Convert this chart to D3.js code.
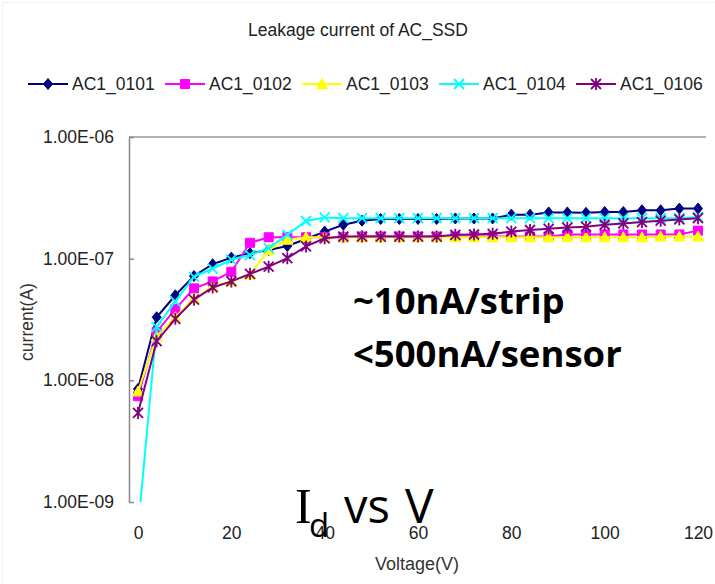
<!DOCTYPE html>
<html>
<head>
<meta charset="utf-8">
<script src="https://cdn.jsdelivr.net/npm/d3@7"></script>
<style>
  html, body { margin: 0; padding: 0; background: #fff; }
  svg { display: block; }
</style>
</head>
<body>
<svg id="chart" width="715" height="584"></svg>
<script>
// voltage steps (V)
const voltages = [0, 4, 8, 12, 16, 20, 24, 28, 32, 36, 40, 44, 48, 52, 56, 60,
  64, 68, 72, 76, 80, 84, 88, 92, 96, 100, 104, 108, 112, 116, 120];

// leakage current (A), one array per sensor
const ac0101 = [8.5e-9, 3.3e-8, 5.0e-8, 7.2e-8, 9.0e-8, 1.02e-7, 1.11e-7, 1.18e-7, 1.27e-7, 1.45e-7, 1.67e-7,
  1.9e-7, 2.05e-7, 2.12e-7, 2.12e-7, 2.12e-7, 2.12e-7, 2.14e-7, 2.14e-7, 2.14e-7, 2.3e-7,
  2.3e-7, 2.4e-7, 2.4e-7, 2.38e-7, 2.42e-7, 2.42e-7, 2.5e-7, 2.5e-7, 2.58e-7, 2.58e-7];
const ac0102 = [7.4e-9, 2.5e-8, 3.85e-8, 5.7e-8, 6.5e-8, 7.8e-8, 1.35e-7, 1.5e-7, 1.5e-7, 1.5e-7, 1.5e-7,
  1.5e-7, 1.52e-7, 1.52e-7, 1.52e-7, 1.52e-7, 1.52e-7, 1.52e-7, 1.52e-7, 1.52e-7, 1.52e-7,
  1.52e-7, 1.52e-7, 1.58e-7, 1.58e-7, 1.58e-7, 1.58e-7, 1.58e-7, 1.58e-7, 1.58e-7, 1.7e-7];
const ac0103 = [8.1e-9, 2.3e-8, 3.3e-8, 4.7e-8, 5.9e-8, 6.5e-8, 7.4e-8, 1.18e-7, 1.43e-7, 1.5e-7, 1.5e-7,
  1.5e-7, 1.5e-7, 1.5e-7, 1.5e-7, 1.5e-7, 1.5e-7, 1.5e-7, 1.5e-7, 1.5e-7, 1.5e-7,
  1.5e-7, 1.5e-7, 1.5e-7, 1.5e-7, 1.5e-7, 1.5e-7, 1.5e-7, 1.52e-7, 1.52e-7, 1.52e-7];
const ac0104 = [6e-10, 2.75e-8, 4.45e-8, 7.1e-8, 8.3e-8, 9.8e-8, 1.07e-7, 1.22e-7, 1.57e-7, 2.04e-7, 2.18e-7,
  2.15e-7, 2.15e-7, 2.15e-7, 2.15e-7, 2.15e-7, 2.15e-7, 2.15e-7, 2.15e-7, 2.15e-7, 2.15e-7,
  2.15e-7, 2.15e-7, 2.15e-7, 2.15e-7, 2.15e-7, 2.15e-7, 2.15e-7, 2.15e-7, 2.15e-7, 2.2e-7];
const ac0106 = [5.4e-9, 2.1e-8, 3.2e-8, 4.6e-8, 5.8e-8, 6.5e-8, 7.5e-8, 8.6e-8, 1.01e-7, 1.26e-7, 1.47e-7,
  1.52e-7, 1.52e-7, 1.52e-7, 1.52e-7, 1.52e-7, 1.52e-7, 1.57e-7, 1.58e-7, 1.6e-7, 1.67e-7,
  1.72e-7, 1.76e-7, 1.8e-7, 1.83e-7, 1.9e-7, 1.95e-7, 2.0e-7, 2.05e-7, 2.1e-7, 2.15e-7];

const seriesNames = ['AC1_0101', 'AC1_0102', 'AC1_0103', 'AC1_0104', 'AC1_0106'];
const seriesValues = [ac0101, ac0102, ac0103, ac0104, ac0106];

const xTicks = [0, 20, 40, 60, 80, 100, 120];
const yTicks = [1e-9, 1e-8, 1e-7, 1e-6];
const yTickLabels = ['1.00E-09', '1.00E-08', '1.00E-07', '1.00E-06'];

const colors = ['#000080', '#ff00ff', '#ffff00', '#00ffff', '#800080'];
const markerTypes = ['diamond', 'square', 'triangle', 'cross', 'star'];

const svg = d3.select('#chart');
const labelFont = '"Liberation Sans", Arial, sans-serif';

const plotLeft = 129;
const plotTop = 137;
const plotBottom = 502;
const plotRight = 706;

const scaleX = d3.scaleLinear()
  .domain([0, 120])
  .range([138, 698]);
const scaleY = d3.scaleLog()
  .domain([1e-9, 1e-6])
  .range([plotBottom, plotTop]);

// faint slide selection border
svg.append('rect')
  .attr('x', 2.5)
  .attr('y', 2.5)
  .attr('width', 730)
  .attr('height', 600)
  .attr('fill', 'none')
  .attr('stroke', '#e4e4e4')
  .attr('stroke-dasharray', '2,2');

// title
svg.append('text')
  .attr('x', 358)
  .attr('y', 36)
  .attr('text-anchor', 'middle')
  .attr('font-family', labelFont)
  .attr('font-size', 17.5)
  .attr('fill', '#222')
  .text('Leakage current of AC_SSD');

function markerPath(type) {
  if (type === 'diamond') return 'M0,-5.5L4.5,0L0,5.5L-4.5,0Z';
  if (type === 'square') return 'M-4.5,-4.5H4.5V4.5H-4.5Z';
  if (type === 'triangle') return 'M0,-5.5L5.5,4.5L-5.5,4.5Z';
  if (type === 'cross') return 'M-5,-5L5,5M5,-5L-5,5';
  return 'M-5,-5L5,5M5,-5L-5,5M0,-6V6';
}

function drawMarker(sel, i) {
  const type = markerTypes[i];
  const open = type === 'cross' || type === 'star';
  sel.append('path')
    .attr('d', markerPath(type))
    .attr('fill', open ? 'none' : colors[i])
    .attr('stroke', colors[i])
    .attr('stroke-width', open ? 1.8 : 1);
}

// legend
const legendX0 = 28;
const legendStep = 137;
const legendY = 84;
const legend = svg.append('g').attr('class', 'legend');
seriesNames.forEach((name, i) => {
  const g = legend.append('g')
    .attr('transform', `translate(${legendX0 + i * legendStep}, ${legendY})`);
  g.append('line')
    .attr('x1', 0).attr('x2', 40)
    .attr('stroke', colors[i])
    .attr('stroke-width', 2);
  drawMarker(g.append('g').attr('transform', 'translate(20,0)'), i);
  g.append('text')
    .attr('x', 44)
    .attr('y', 6)
    .attr('font-family', labelFont)
    .attr('font-size', 17.5)
    .attr('fill', '#222')
    .text(name);
});

// top border of plot area
svg.append('line')
  .attr('x1', plotLeft).attr('x2', plotRight)
  .attr('y1', plotTop).attr('y2', plotTop)
  .attr('stroke', '#999')
  .attr('stroke-width', 1.5);

// y axis
const yAxis = svg.append('g')
  .attr('class', 'axis')
  .attr('transform', `translate(${plotLeft}, 0)`)
  .call(d3.axisLeft(scaleY)
    .tickValues(yTicks)
    .tickFormat((d, i) => yTickLabels[i])
    .tickSize(-5)
    .tickSizeOuter(0)
    .tickPadding(15));
yAxis.select('.domain').attr('stroke', '#888').attr('stroke-width', 1.5);
yAxis.selectAll('.tick line').attr('stroke', '#888').attr('stroke-width', 1.5);
yAxis.selectAll('text')
  .attr('font-family', labelFont)
  .attr('font-size', 17.5)
  .attr('fill', '#222');

// x axis (labels only)
const xAxis = svg.append('g')
  .attr('class', 'axis')
  .attr('transform', `translate(0, ${plotBottom})`)
  .call(d3.axisBottom(scaleX)
    .tickValues(xTicks)
    .tickFormat(d3.format('d'))
    .tickSize(0)
    .tickPadding(25));
xAxis.select('.domain').remove();
xAxis.selectAll('text')
  .attr('font-family', labelFont)
  .attr('font-size', 17.5)
  .attr('fill', '#222');

// axis titles
svg.append('text')
  .attr('x', 417)
  .attr('y', 570)
  .attr('text-anchor', 'middle')
  .attr('font-family', labelFont)
  .attr('font-size', 18)
  .attr('fill', '#333')
  .text('Voltage(V)');

svg.append('text')
  .attr('transform', 'translate(33, 322) rotate(-90)')
  .attr('text-anchor', 'middle')
  .attr('font-family', labelFont)
  .attr('font-size', 17.5)
  .attr('fill', '#333')
  .text('current(A)');

// series
svg.append('clipPath')
  .attr('id', 'plot-clip')
  .append('rect')
  .attr('x', plotLeft)
  .attr('y', plotTop)
  .attr('width', 715 - plotLeft)
  .attr('height', plotBottom - plotTop);

const line = d3.line()
  .x(d => scaleX(d[0]))
  .y(d => scaleY(d[1]));

const plot = svg.append('g').attr('clip-path', 'url(#plot-clip)');
seriesValues.forEach((vals, i) => {
  const pts = voltages.map((v, k) => [v, vals[k]]);
  const g = plot.append('g').attr('class', 'series');
  g.append('path')
    .attr('d', line(pts))
    .attr('fill', 'none')
    .attr('stroke', colors[i])
    .attr('stroke-width', 2);
  g.selectAll('g.marker')
    .data(pts.filter(p => p[1] >= 1e-9))
    .enter().append('g')
    .attr('class', 'marker')
    .attr('transform', d => `translate(${scaleX(d[0])}, ${scaleY(d[1])})`)
    .each(function () { drawMarker(d3.select(this), i); });
});

// annotations
const noteFont = '"Open Sans", "Noto Sans", sans-serif';
svg.append('text')
  .attr('x', 353)
  .attr('y', 314)
  .attr('font-family', noteFont)
  .attr('font-weight', 'bold')
  .attr('font-size', 36.5)
  .attr('fill', '#000')
  .text('~10nA/strip');
svg.append('text')
  .attr('x', 353)
  .attr('y', 367)
  .attr('font-family', noteFont)
  .attr('font-weight', 'bold')
  .attr('font-size', 36.5)
  .attr('fill', '#000')
  .text('<500nA/sensor');

// I_d vs V caption (overlaps the axis labels, as in the slide)
const idv = svg.append('g').attr('class', 'idv');
idv.append('text')
  .attr('x', 295)
  .attr('y', 523)
  .attr('font-family', '"Liberation Serif", serif')
  .attr('font-size', 50)
  .attr('fill', '#000')
  .text('I');
idv.append('text')
  .attr('x', 309)
  .attr('y', 537)
  .attr('font-family', noteFont)
  .attr('font-size', 33)
  .attr('fill', '#000')
  .text('d');
idv.append('text')
  .attr('x', 344)
  .attr('y', 523)
  .attr('font-family', noteFont)
  .attr('font-size', 47)
  .attr('fill', '#000')
  .text('vs');
idv.append('text')
  .attr('x', 405)
  .attr('y', 523)
  .attr('font-family', noteFont)
  .attr('font-size', 48)
  .attr('fill', '#000')
  .text('V');
</script>
</body>
</html>
